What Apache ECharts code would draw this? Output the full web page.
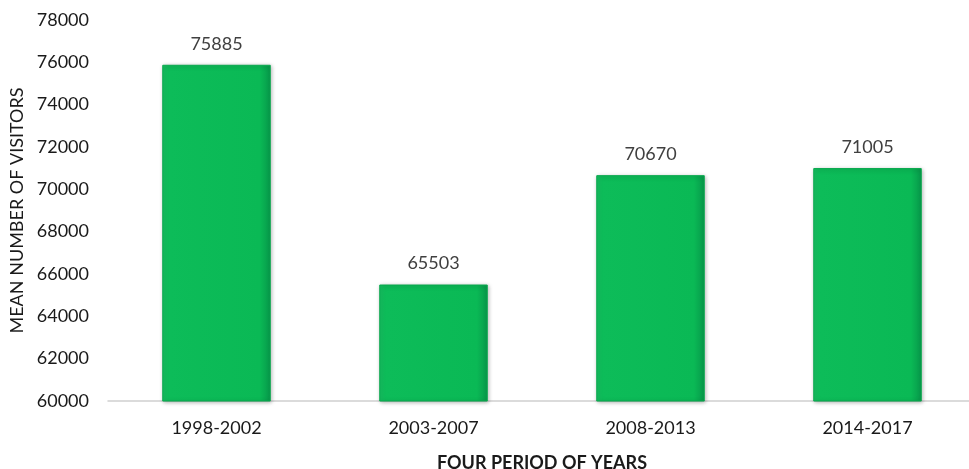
<!DOCTYPE html>
<html>
<head>
<meta charset="utf-8">
<script src="https://cdn.jsdelivr.net/npm/echarts@6/dist/echarts.min.js"></script>
<style>
html,body{margin:0;padding:0;background:#fff;}
#c{width:969px;height:469px;}
</style>
</head>
<body>
<div id="c"></div>
<script>
const categories = ['1998-2002', '2003-2007', '2008-2013', '2014-2017'];
const meanVisitors = [75885, 65503, 70670, 71005];
const yTicks = { min: 60000, max: 78000, interval: 2000 };
const xTitle = 'FOUR PERIOD OF YEARS';
const yTitle = 'MEAN NUMBER OF VISITORS';

const chart = echarts.init(document.getElementById('c'), null, { renderer: 'canvas' });
const font = 'Lato, "Open Sans", sans-serif';
chart.setOption({
  animation: false,
  grid: { left: 108, right: -7, top: 20, bottom: 68, containLabel: false, outerBoundsMode: 'none' },
  xAxis: {
    type: 'category',
    data: categories,
    name: xTitle,
    nameLocation: 'middle',
    nameGap: 53,
    nameTextStyle: { fontFamily: font, fontSize: 18, fontWeight: 'bold', color: '#1a1a1a' },
    axisLine: { lineStyle: { color: '#d0d0d0', width: 1.5 } },
    axisTick: { show: false },
    axisLabel: { fontFamily: font, fontSize: 18, color: '#1a1a1a', margin: 18 }
  },
  yAxis: {
    type: 'value',
    min: yTicks.min, max: yTicks.max, interval: yTicks.interval,
    name: yTitle,
    nameLocation: 'middle',
    nameRotate: 90,
    nameGap: 82,
    nameTextStyle: { fontFamily: font, fontSize: 18, color: '#1a1a1a' },
    axisLine: { show: false },
    axisTick: { show: false },
    splitLine: { show: false },
    axisLabel: { fontFamily: font, fontSize: 18, color: '#1a1a1a', margin: 19, formatter: v => String(v) }
  },
  series: [{
    type: 'bar',
    data: meanVisitors,
    barWidth: '50%',
    itemStyle: {
      color: {
        type: 'linear', x: 0, y: 0, x2: 1, y2: 0,
        colorStops: [
          { offset: 0, color: '#16c262' },
          { offset: 0.06, color: '#0dbc59' },
          { offset: 0.9, color: '#0ab955' },
          { offset: 1, color: '#07984a' }
        ]
      },
      borderColor: '#09a94e',
      borderWidth: 1,
      shadowColor: 'rgba(0,0,0,0.3)',
      shadowBlur: 4,
      shadowOffsetX: 1,
      shadowOffsetY: 1
    },
    label: {
      show: true,
      position: 'top',
      distance: 12,
      fontFamily: font,
      fontSize: 18,
      color: '#404040'
    }
  }]
});
</script>
</body>
</html>
